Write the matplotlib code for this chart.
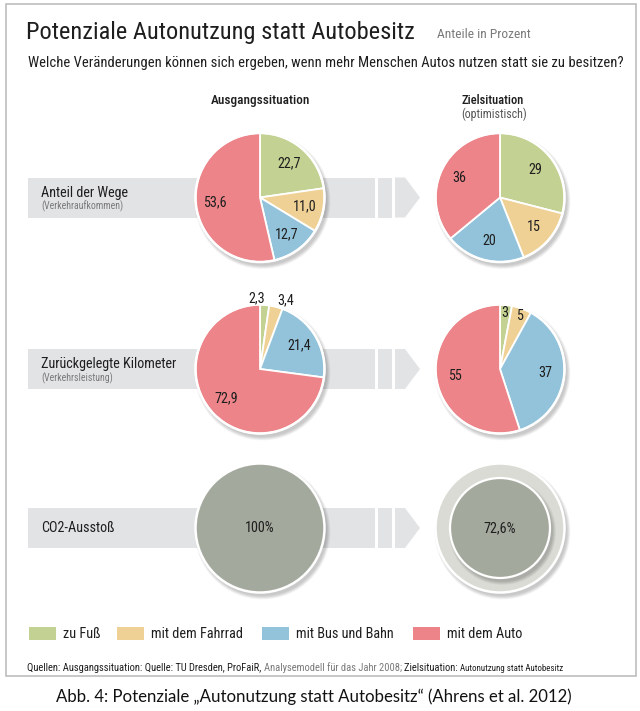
import numpy as np
import matplotlib
matplotlib.use("Agg")
import matplotlib.pyplot as plt
from matplotlib import font_manager
from matplotlib.patches import Circle, Rectangle, Polygon

names = {f.name for f in font_manager.fontManager.ttflist}
narrow = "Roboto"
for cand in ["Liberation Sans Narrow", "Roboto Condensed", "Open Sans Condensed", "Roboto"]:
    if cand in names:
        narrow = cand
        break
plt.rcParams["font.family"] = [narrow, "DejaVu Sans"]

# data
modes = ["zu Fuß", "mit dem Fahrrad", "mit Bus und Bahn", "mit dem Auto"]
colors = ["#c3d192", "#efd196", "#93c3da", "#ec8489"]
rows = ["Anteil der Wege", "Zurückgelegte Kilometer", "CO2-Ausstoß"]
row_notes = ["(Verkehraufkommen)", "(Verkehrsleistung)", ""]
wege_start = [22.7, 11.0, 12.7, 53.6]
wege_ziel = [29, 15, 20, 36]
km_start = [2.3, 3.4, 21.4, 72.9]
km_ziel = [3, 5, 37, 55]
co2 = [100, 72.6]

fig = plt.figure(figsize=(6.4, 7.11), dpi=100)
ax = fig.add_axes([0, 0, 1, 1])
renderer = fig.canvas.get_renderer()

text_c = "#1e1e1e"
grey_c = "#7a7a7a"
band_c = "#e2e3e5"
cx = [260, 500]
cy = [197.5, 369, 528]
r = 64.5


def fit(t, width):
    # shrink / grow the font so the text is as wide as in the reference
    w = t.get_window_extent(renderer).width
    t.set_fontsize(t.get_fontsize() * width / w)
    return t


def shadow(x, y, rad, z=2):
    for i in range(8):
        ax.add_patch(Circle((x + 2.5, y + 3.5), rad + 0.5 * i, color="black",
                            alpha=0.028, lw=0, zorder=z))


def de(v, dec):
    return f"{v:.{dec}f}".replace(".", ",")


# frame
ax.add_patch(Rectangle((6, 4), 630, 672, fill=False, ec="#bdbdbd", lw=1.2, zorder=0))

# bands with arrows
row_txt = []
note_txt = []
for i, y in enumerate(cy):
    ax.add_patch(Rectangle((28, y - 20), 347, 40, color=band_c, lw=0, zorder=1))
    ax.add_patch(Rectangle((378, y - 20), 14, 40, color=band_c, lw=0, zorder=1))
    ax.add_patch(Polygon([(395, y - 20), (405, y - 20), (420, y), (405, y + 20), (395, y + 20)],
                         closed=True, color=band_c, lw=0, zorder=1))
    row_txt.append(ax.text(41, y - 5 if row_notes[i] else y, rows[i], fontsize=10.5,
                           color=text_c, va="center", ha="left"))
    if row_notes[i]:
        note_txt.append(ax.text(41, y + 9, row_notes[i], fontsize=6.5, color=grey_c,
                                va="center", ha="left"))
fit(row_txt[1], 137)
for t in row_txt:
    t.set_fontsize(row_txt[1].get_fontsize())
fit(note_txt[0], 82)
note_txt[1].set_fontsize(note_txt[0].get_fontsize())

# pies
pies = [(wege_start, wege_ziel), (km_start, km_ziel)]
for i, (left, right) in enumerate(pies):
    for j, vals in enumerate([left, right]):
        x, y = cx[j], cy[i]
        shadow(x, y, r)
        dec = 1 if j == 0 else 0
        wedges, _ = ax.pie(vals, colors=colors, startangle=-90, counterclock=True,
                           center=(x, y), radius=r, frame=True,
                           wedgeprops=dict(edgecolor="white", linewidth=1.3))
        for w in wedges:
            w.set_zorder(3)
        ax.add_patch(Circle((x, y), r, fill=False, ec="white", lw=1.8, zorder=4))
        for k, (w, v) in enumerate(zip(wedges, vals)):
            mid = np.deg2rad((w.theta1 + w.theta2) / 2)
            ha = "center"
            if v >= 6:
                d = 0.7
            elif dec:
                d = 1.1
                ha = "right" if k == 0 else "left"
            else:
                d = 0.87
            ax.text(x + d * r * np.cos(mid), y + d * r * np.sin(mid), de(v, dec),
                    fontsize=10.2, color=text_c, ha=ha, va="center", zorder=5)

# co2 circles
y = cy[2]
shadow(cx[0], y, r)
ax.add_patch(Circle((cx[0], y), r, fc="#a4a99d", ec="white", lw=1.8, zorder=3))
ax.text(cx[0], y, f"{co2[0]:g}%", fontsize=10.2, color=text_c, ha="center", va="center", zorder=5)
shadow(cx[1], y, r)
ax.add_patch(Circle((cx[1], y), r, fc="#d9dbd4", ec="white", lw=1.8, zorder=3))
r_in = r * 0.775
shadow(cx[1], y, r_in, z=3.5)
ax.add_patch(Circle((cx[1], y), r_in, fc="#a4a99d", ec="white", lw=1.6, zorder=4))
ax.text(cx[1], y, de(co2[1], 1) + "%", fontsize=10.2, color=text_c, ha="center", va="center", zorder=5)

# titles
fit(ax.text(26, 39, "Potenziale Autonutzung statt Autobesitz", fontsize=16, color=text_c,
            va="baseline", ha="left"), 388)
fit(ax.text(437, 38, "Anteile in Prozent", fontsize=7, color=grey_c, va="baseline", ha="left"), 94)
fit(ax.text(28, 67, "Welche Veränderungen können sich ergeben, wenn mehr Menschen Autos nutzen statt sie zu besitzen?",
            fontsize=10.3, color=text_c, va="baseline", ha="left"), 588)
fit(ax.text(cx[0], 104, "Ausgangssituation", fontsize=9.5, color=text_c, va="baseline",
            ha="center", fontweight="medium"), 100)
fit(ax.text(461, 104, "Zielsituation", fontsize=9.5, color=text_c, va="baseline",
            ha="left", fontweight="medium"), 63)
fit(ax.text(461, 118, "(optimistisch)", fontsize=9.5, color="#555555", va="baseline", ha="left"), 66)

# legend
lx = [29, 117, 262, 413]
leg_txt = []
for k in range(4):
    ax.add_patch(Rectangle((lx[k], 627), 27, 13, color=colors[k], lw=0))
    leg_txt.append(ax.text(lx[k] + 34, 634, modes[k], fontsize=10, color=text_c,
                           va="center", ha="left"))
fit(leg_txt[1], 92)
for t in leg_txt:
    t.set_fontsize(leg_txt[1].get_fontsize())

# sources
parts = [("Quellen: Ausgangssituation: Quelle: TU Dresden, ProFaiR, ", text_c, 6.3),
         ("Analysemodell für das Jahr 2008; ", grey_c, 6.3),
         ("Zielsituation: ", text_c, 6.3),
         ("Autonutzung statt Autobesitz", text_c, 5.3)]
src = [ax.text(27, 671, parts[0][0], fontsize=parts[0][2], color=parts[0][1],
               va="baseline", ha="left")]
for s, c, fs in parts[1:]:
    src.append(ax.annotate(s, xy=(1, 0), xycoords=src[-1], fontsize=fs, color=c,
                           va="bottom", ha="left"))
total = src[-1].get_window_extent(renderer).x1 - src[0].get_window_extent(renderer).x0
for t in src:
    t.set_fontsize(t.get_fontsize() * 538 / total)

# caption
fit(ax.text(314, 697, "Abb. 4: Potenziale \u201eAutonutzung statt Autobesitz\u201c (Ahrens et al. 2012)",
            fontsize=12, color="#111111", va="center", ha="center",
            family=["Lato", "DejaVu Sans"]), 512)

ax.set_xlim(0, 640)
ax.set_ylim(711, 0)
ax.set_aspect("auto")
ax.axis("off")
fig.savefig("out.png", dpi=100, facecolor="white")
